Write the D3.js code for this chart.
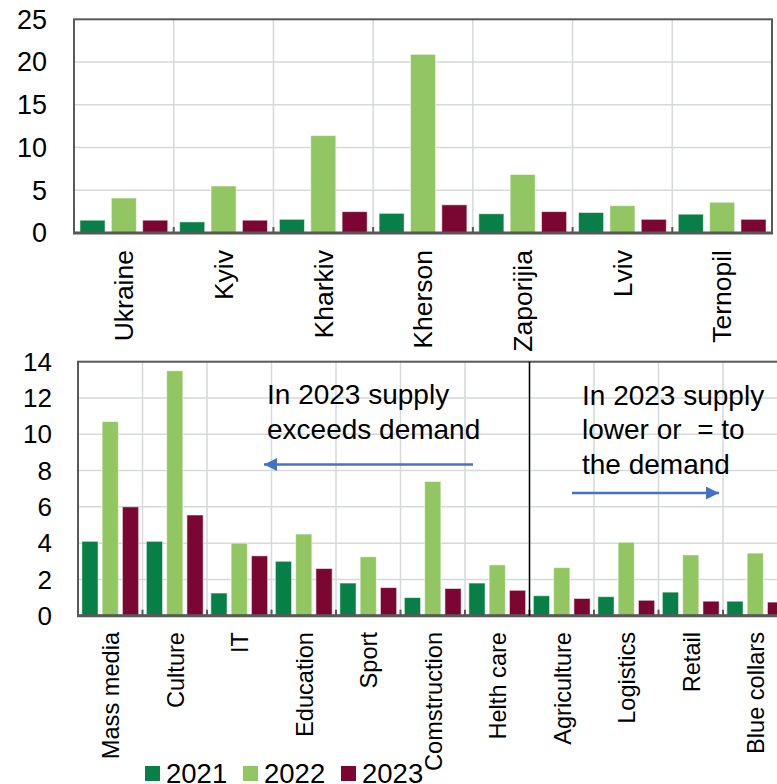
<!DOCTYPE html>
<html>
<head>
<meta charset="utf-8">
<script src="https://cdn.jsdelivr.net/npm/d3@7/dist/d3.min.js"></script>
<style>
  html, body { margin: 0; padding: 0; background: #fff; }
  svg { display: block; font-family: "Liberation Sans", Arial, sans-serif; }
</style>
</head>
<body>
<svg id="chart" width="777" height="784"></svg>
<script>
// ---- data ----
const years = ["2021", "2022", "2023"];

const regions = ["Ukraine", "Kyiv", "Kharkiv", "Kherson", "Zaporijia", "Lviv", "Ternopil"];
const region2021 = [1.5, 1.3, 1.6, 2.3, 2.25, 2.4, 2.2];
const region2022 = [4.1, 5.5, 11.4, 20.9, 6.85, 3.2, 3.6];
const region2023 = [1.5, 1.5, 2.5, 3.3, 2.5, 1.6, 1.6];
const regionTicks = [0, 5, 10, 15, 20, 25];

const sectors = ["Mass media", "Culture", "IT", "Education", "Sport", "Comstruction",
                 "Helth care", "Agriculture", "Logistics", "Retail", "Blue collars"];
const sector2021 = [4.1, 4.1, 1.25, 3.0, 1.8, 1.0, 1.8, 1.1, 1.05, 1.3, 0.8];
const sector2022 = [10.7, 13.5, 4.0, 4.5, 3.25, 7.4, 2.8, 2.65, 4.05, 3.35, 3.45];
const sector2023 = [6.0, 5.55, 3.3, 2.6, 1.55, 1.5, 1.4, 0.95, 0.85, 0.8, 0.75];
const sectorTicks = [0, 2, 4, 6, 8, 10, 12, 14];

const leftNote = ["In 2023 supply", "exceeds demand"];
const rightNote = ["In 2023 supply", "lower or  = to", "the demand"];
const splitBefore = "Agriculture";

// ---- style ----
const colors = d3.scaleOrdinal().domain(years).range(["#077f46", "#92c663", "#7b0631"]);
const frameColor = "#595959";
const gridColor = "#d5d9dc";
const arrowColor = "#4472c4";

const svg = d3.select("#chart");

svg.append("defs").append("marker")
  .attr("id", "arrowhead")
  .attr("viewBox", "0 0 10 10")
  .attr("refX", 10).attr("refY", 5)
  .attr("markerUnits", "userSpaceOnUse")
  .attr("markerWidth", 16).attr("markerHeight", 13)
  .attr("orient", "auto")
  .append("path").attr("d", "M0,0 L10,5 L0,10 Z").attr("fill", arrowColor);

function buildRows(cats, s1, s2, s3) {
  return cats.map((c, i) => ({ cat: c, values: [s1[i], s2[i], s3[i]] }));
}

function barPanel(opts) {
  const { cats, rows, ticks, left, right, top, bottom, tickFont, tickX, labelFont, labelTop, labelDy } = opts;
  const g = svg.append("g");

  const x = d3.scaleBand().domain(cats).range([left, right]).padding(0);
  const xi = d3.scaleBand().domain(years).range([0, x.bandwidth()])
    .paddingInner(0.2).paddingOuter(0.19);
  const y = d3.scaleLinear().domain([0, d3.max(ticks)]).range([bottom, top]);

  // grid
  g.append("g").selectAll("line").data(ticks.slice(1, -1)).join("line")
    .attr("x1", left).attr("x2", right)
    .attr("y1", d => y(d)).attr("y2", d => y(d))
    .attr("stroke", gridColor).attr("stroke-width", 1.5);
  g.append("g").selectAll("line").data(cats.slice(1)).join("line")
    .attr("x1", d => x(d)).attr("x2", d => x(d))
    .attr("y1", top).attr("y2", bottom)
    .attr("stroke", gridColor).attr("stroke-width", 1.5);

  // bars
  const groups = g.append("g").selectAll("g").data(rows).join("g")
    .attr("transform", d => `translate(${x(d.cat)},0)`);
  groups.selectAll("rect")
    .data(d => d.values.map((v, k) => ({ year: years[k], v })))
    .join("rect")
    .attr("x", d => xi(d.year))
    .attr("width", xi.bandwidth())
    .attr("y", d => y(d.v))
    .attr("height", d => y(0) - y(d.v))
    .attr("fill", d => colors(d.year))
    .attr("stroke", "rgba(255,255,255,0.55)")
    .attr("stroke-width", 1);

  // frame
  g.append("rect")
    .attr("x", left).attr("y", top)
    .attr("width", right - left).attr("height", bottom - top)
    .attr("fill", "none").attr("stroke", frameColor).attr("stroke-width", 2);
  g.append("line")
    .attr("x1", left - 1).attr("x2", right + 1)
    .attr("y1", bottom).attr("y2", bottom)
    .attr("stroke", frameColor).attr("stroke-width", 3);

  // category tick marks on the base line
  g.append("g").selectAll("line").data(cats.slice(1)).join("line")
    .attr("x1", d => x(d)).attr("x2", d => x(d))
    .attr("y1", bottom - 6).attr("y2", bottom)
    .attr("stroke", frameColor).attr("stroke-width", 2);

  // value axis labels
  g.append("g").selectAll("text").data(ticks).join("text")
    .attr("x", tickX).attr("y", d => y(d)).attr("dy", "0.35em")
    .attr("text-anchor", "end").attr("font-size", tickFont).attr("fill", "#000")
    .text(d => d);

  // category labels
  g.append("g").selectAll("text").data(cats).join("text")
    .attr("transform", d => `translate(${x(d) + x.bandwidth() / 2},${labelTop}) rotate(-90)`)
    .attr("dy", labelDy)
    .attr("text-anchor", "end").attr("font-size", labelFont).attr("fill", "#000")
    .text(d => d);

  return { x, y };
}

// ---- regions panel ----
barPanel({
  cats: regions, rows: buildRows(regions, region2021, region2022, region2023), ticks: regionTicks,
  left: 74, right: 772, top: 19.3, bottom: 233,
  tickFont: 27, tickX: 47, labelFont: 26.5, labelTop: 250, labelDy: "0.35em"
});

// ---- sectors panel (runs past the right edge of the page) ----
const sec = barPanel({
  cats: sectors, rows: buildRows(sectors, sector2021, sector2022, sector2023), ticks: sectorTicks,
  left: 78, right: 787.5, top: 361.7, bottom: 615.7,
  tickFont: 26, tickX: 52, labelFont: 23.6, labelTop: 632, labelDy: "0.38em"
});

// divider between the two groups of sectors
svg.append("line")
  .attr("x1", sec.x(splitBefore)).attr("x2", sec.x(splitBefore))
  .attr("y1", 361.7).attr("y2", 615.7)
  .attr("stroke", "#000").attr("stroke-width", 1.5);

// annotations
function note(lines, x0, y0, lh) {
  svg.append("g").selectAll("text").data(lines).join("text")
    .attr("x", x0).attr("y", (d, i) => y0 + i * lh)
    .attr("font-size", 28).attr("fill", "#000")
    .style("white-space", "pre")
    .attr("xml:space", "preserve")
    .text(d => d);
}
note(leftNote, 267, 403.5, 35);
note(rightNote, 582, 405, 34.3);

svg.append("line")
  .attr("x1", 473).attr("y1", 464.5).attr("x2", 264).attr("y2", 464.5)
  .attr("stroke", arrowColor).attr("stroke-width", 2.5)
  .attr("marker-end", "url(#arrowhead)");
svg.append("line")
  .attr("x1", 572).attr("y1", 493).attr("x2", 719).attr("y2", 493)
  .attr("stroke", arrowColor).attr("stroke-width", 2.5)
  .attr("marker-end", "url(#arrowhead)");

// legend
const legend = svg.append("g").selectAll("g").data(years).join("g")
  .attr("transform", (d, i) => `translate(${145 + i * 98},766)`);
legend.append("rect").attr("width", 15).attr("height", 15).attr("fill", d => colors(d));
legend.append("text").attr("x", 21).attr("y", 17).attr("font-size", 27.5).attr("fill", "#000").text(d => d);
</script>
</body>
</html>
